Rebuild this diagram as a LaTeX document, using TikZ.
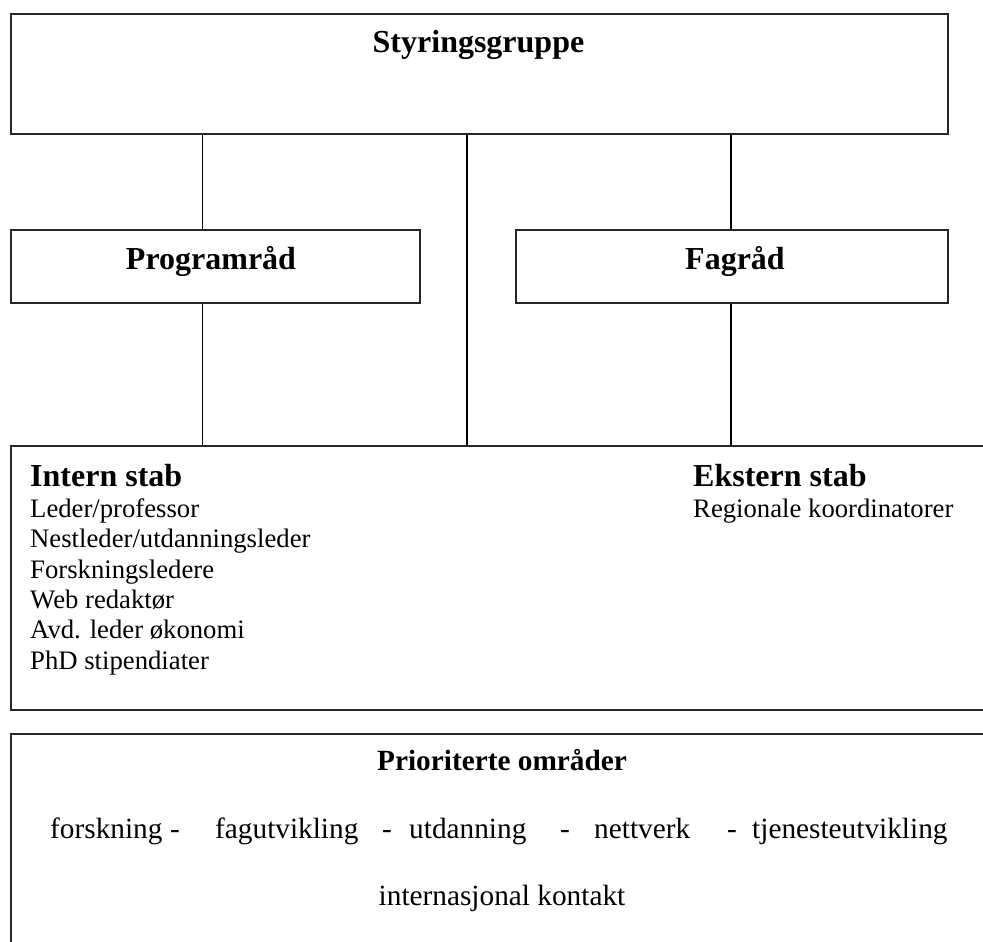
\documentclass[tikz,border=0pt]{standalone}
\usepackage{fontspec}
\setmainfont{Liberation Serif}
\begin{document}
\begin{tikzpicture}[x=1pt,y=-1pt,
  box/.style={draw=black!85,line width=1.8pt,rectangle,anchor=north west,inner sep=0pt},
  conn/.style={draw=black,line width=1.4pt},
  head/.style={font=\fontsize{32}{38}\selectfont\bfseries,inner sep=0pt},
  sub/.style={font=\fontsize{29.3}{34}\selectfont\bfseries,inner sep=0pt},
  body/.style={font=\fontsize{26.7}{30.5}\selectfont,inner sep=0pt},
  mid/.style={font=\fontsize{29.3}{34}\selectfont,inner sep=0pt}]
\useasboundingbox (0,0) rectangle (983,942);
% boxes
\node[box,minimum width=937pt,minimum height=120pt] (styr) at (10,13) {};
\node[box,minimum width=409pt,minimum height=73pt] (prog) at (10,229) {};
\node[box,minimum width=432pt,minimum height=73pt] (fag) at (515,229) {};
\node[box,minimum width=990pt,minimum height=264pt] (stab) at (10,445) {};
\node[box,minimum width=990pt,minimum height=230pt] (prio) at (10,733) {};
% connectors
\coordinate (c1) at (202.5,0);
\coordinate (c2) at (467,0);
\coordinate (c3) at (731,0);
\draw[conn] (styr.south -| c1) -- (prog.north -| c1);
\draw[conn] (prog.south -| c1) -- (stab.north -| c1);
\draw[conn] (styr.south -| c2) -- (stab.north -| c2);
\draw[conn] (styr.south -| c3) -- (fag.north -| c3);
\draw[conn] (fag.south -| c3) -- (stab.north -| c3);
% texts
\node[head,anchor=base] (tstyr) at (478.5,53) {Styringsgruppe};
\node[head,anchor=base] (tprog) at (211,269.5) {Programråd};
\node[head,anchor=base] (tfag) at (735,269.5) {Fagråd};
\node[head,anchor=base west] (tint) at (30,486) {Intern stab};
\node[body,anchor=base west] (tintl) at (30,517) {Leder/professor};
\node[body,anchor=base west] at (30,547.7) {Nestleder/utdanningsleder};
\node[body,anchor=base west] at (30,578) {Forskningsledere};
\node[body,anchor=base west] at (30,608.3) {Web redaktør};
\node[body,anchor=base west] at (30,638.6) {Avd. leder økonomi};
\node[body,anchor=base west] at (30,669) {PhD stipendiater};
\node[head,anchor=base west] (text) at (693,486) {Ekstern stab};
\node[body,anchor=base west] (textl) at (693,517) {Regionale koordinatorer};
\node[sub,anchor=base] (tprio) at (502,770) {Prioriterte områder};
\node[mid,anchor=base west] (tareas) at (50,838) {\rlap{forskning}\hspace*{120pt}\rlap{-}\hspace*{45pt}\rlap{fagutvikling}\hspace*{167pt}\rlap{-}\hspace*{27pt}\rlap{utdanning}\hspace*{151pt}\rlap{-}\hspace*{34pt}\rlap{nettverk}\hspace*{133pt}\rlap{-}\hspace*{25pt}tjenesteutvikling};
\node[mid,anchor=base] (tint2) at (502,905) {internasjonal kontakt};
\end{tikzpicture}
\end{document}
